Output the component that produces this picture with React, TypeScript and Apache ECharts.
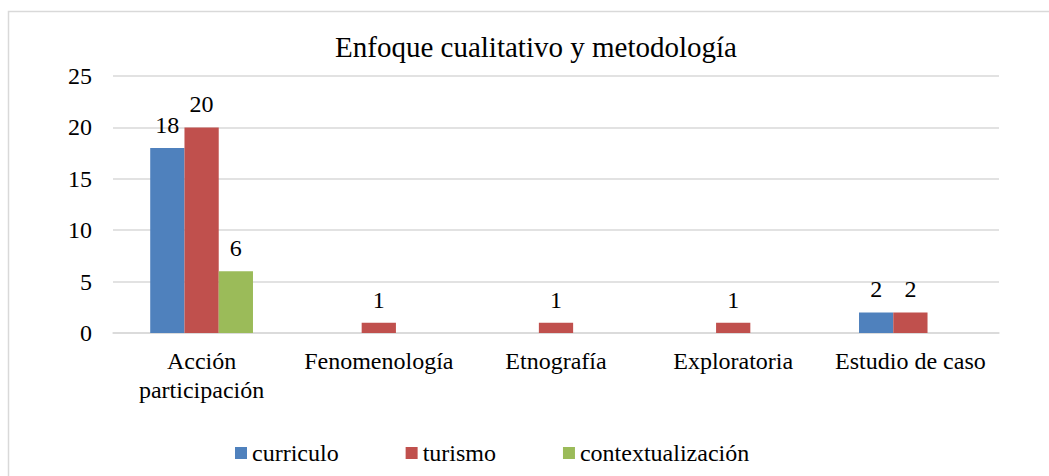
import React, { useEffect, useRef } from "react";
import * as echarts from "echarts";

const title = "Enfoque cualitativo y metodología";
const categories = ["Acción\nparticipación", "Fenomenología", "Etnografía", "Exploratoria", "Estudio de caso"];
const seriesNames = ["curriculo", "turismo", "contextualización"];
const curriculo = [18, 0, 0, 0, 2];
const turismo = [20, 1, 1, 1, 2];
const contextualizacion = [6, 0, 0, 0, 0];
const colors = ["#4f81bd", "#c0504d", "#9bbb59"];
const yTicks = { min: 0, max: 25, interval: 5 };

const FONT = "Liberation Serif";

export default function App() {
  const ref = useRef<HTMLDivElement>(null);
  useEffect(() => {
    document.body.style.margin = "0";
    const chart = echarts.init(ref.current!, null, { renderer: "svg" });
    const values = [curriculo, turismo, contextualizacion];
    chart.setOption({
      animation: false,
      backgroundColor: "#ffffff",
      textStyle: { fontFamily: FONT, color: "#000" },
      title: {
        text: title,
        left: 531,
        textAlign: "center",
        top: 27,
        textStyle: { fontFamily: FONT, fontSize: 29, fontWeight: "normal", color: "#000" },
      },
      graphic: [
        {
          type: "rect",
          shape: { x: 8.5, y: 11.5, width: 1200, height: 600 },
          style: { fill: "none", stroke: "#d9d9d9", lineWidth: 1.5 },
          silent: true,
          z: -10,
        },
      ],
      legend: {
        data: seriesNames,
        left: 230,
        top: 436,
        icon: "rect",
        itemWidth: 12,
        itemHeight: 12,
        itemGap: 67,
        textStyle: { fontFamily: FONT, fontSize: 24, color: "#000", padding: [0, 0, 0, 0] },
      },
      grid: { left: 113, right: 50, top: 76, bottom: 143, containLabel: false },
      xAxis: {
        type: "category",
        data: categories,
        axisLine: { show: true, lineStyle: { color: "#d9d9d9", width: 1.5 } },
        axisTick: { show: false },
        axisLabel: {
          fontFamily: FONT,
          fontSize: 24,
          color: "#000",
          margin: 13,
          lineHeight: 29,
          interval: 0,
        },
      },
      yAxis: {
        type: "value",
        min: yTicks.min,
        max: yTicks.max,
        interval: yTicks.interval,
        axisLine: { show: false },
        axisTick: { show: false },
        splitLine: { lineStyle: { color: "#d9d9d9", width: 1.5 } },
        axisLabel: { fontFamily: FONT, fontSize: 24, color: "#000", margin: 21 },
      },
      series: seriesNames.map((name, i) => ({
        name,
        type: "bar",
        data: values[i],
        barGap: "0%",
        barCategoryGap: "42%",
        itemStyle: { color: colors[i] },
        label: {
          show: true,
          position: "top",
          distance: 11,
          fontFamily: FONT,
          fontSize: 24,
          color: "#000",
          formatter: (p: any) => (p.value ? String(p.value) : ""),
        },
      })),
    });
    return () => chart.dispose();
  }, []);
  return <div ref={ref} style={{ width: 1049, height: 476 }} />;
}
